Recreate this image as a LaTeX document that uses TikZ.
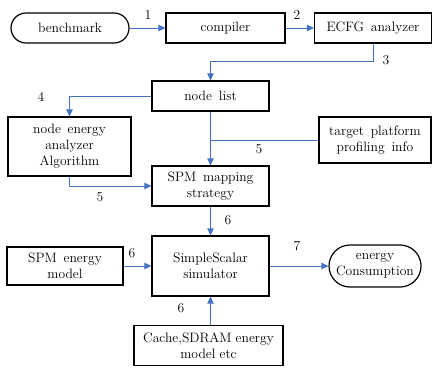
\documentclass[tikz,border=0pt]{standalone}
\usetikzlibrary{arrows.meta,shapes.misc}
\definecolor{flowblue}{RGB}{68,114,196}
\newcommand{\diagfont}{\fontsize{13.6}{16}\selectfont\spaceskip=0.5em plus 0.1em\relax}
\newcommand{\tightspace}{\spaceskip=0.3em plus 0.05em\relax}
\begin{document}
\begin{tikzpicture}[x=1pt,y=-1pt,
  font=\diagfont,
  box/.style={draw=black,line width=1.2pt,rectangle,align=center,inner sep=0pt},
  term/.style={draw=black,line width=1.2pt,rounded rectangle,align=center,inner sep=0pt},
  arr/.style={draw=flowblue,line width=0.9pt,-{Triangle[length=7pt,width=6.5pt]}},
  ln/.style={draw=flowblue,line width=0.9pt},
  lbl/.style={inner sep=0pt}]
\useasboundingbox (0,0) rectangle (433,367);

% boxes
\node[term,minimum width=118pt,minimum height=30pt] (bm) at (70,28) {benchmark};
\node[box,minimum width=119pt,minimum height=30pt] (comp) at (225.5,28) {compiler};
\node[box,minimum width=117pt,minimum height=30pt] (ecfg) at (373,28) {ECFG analyzer};
\node[box,minimum width=117pt,minimum height=30pt] (nl) at (210.5,96) {node list};
\node[box,minimum width=123pt,minimum height=59pt] (nea) at (69.5,146.5) {node energy\\analyzer\\Algorithm};
\node[box,minimum width=112pt,minimum height=46pt] (tpp) at (375,140) {target platform\\profiling info};
\node[box,minimum width=117pt,minimum height=40pt] (spm) at (210.5,186) {SPM mapping\\strategy};
\node[box,minimum width=117pt,minimum height=60pt] (sim) at (210.5,266) {SimpleScalar\\simulator};
\node[box,minimum width=116pt,minimum height=38pt] (spme) at (65,266) {SPM energy\\model};
\node[term,minimum width=92pt,minimum height=42pt] (ec) at (375,266) {energy\\Consumption};
\node[box,minimum width=149pt,minimum height=40pt,font=\diagfont\tightspace] (cache) at (208.5,345.5) {Cache,SDRAM energy\\model etc};

% connectors
\draw[arr] (bm.east) -- (comp.west);
\draw[arr] (comp.east) -- (ecfg.west);
\draw[arr] (ecfg.south) -- ++(0,18) -| (nl.north);
\draw[arr] (nl.west) -| (nea.north);
\draw[ln] (tpp.west) -- (nl.south |- tpp.west);
\draw[arr] (nl.south) -- (spm.north);
\draw[arr] (nea.south) |- (spm.west);
\draw[arr] (spm.south) -- (sim.north);
\draw[arr] (spme.east) -- (sim.west);
\draw[arr] (sim.east) -- (ec.west);
\draw[arr] (cache.north -| sim.south) -- (sim.south);

% step numbers
\node[lbl] (n1) at (148,15) {1};
\node[lbl] (n2) at (297,15) {2};
\node[lbl] (n3) at (386,60) {3};
\node[lbl] (n4) at (41,97) {4};
\node[lbl] (n5a) at (259,149) {5};
\node[lbl] (n5b) at (100,197) {5};
\node[lbl] (n6a) at (228,220) {6};
\node[lbl] (n6b) at (132,253) {6};
\node[lbl] (n6c) at (181,308) {6};
\node[lbl] (n7) at (297,246) {7};
\end{tikzpicture}
\end{document}
